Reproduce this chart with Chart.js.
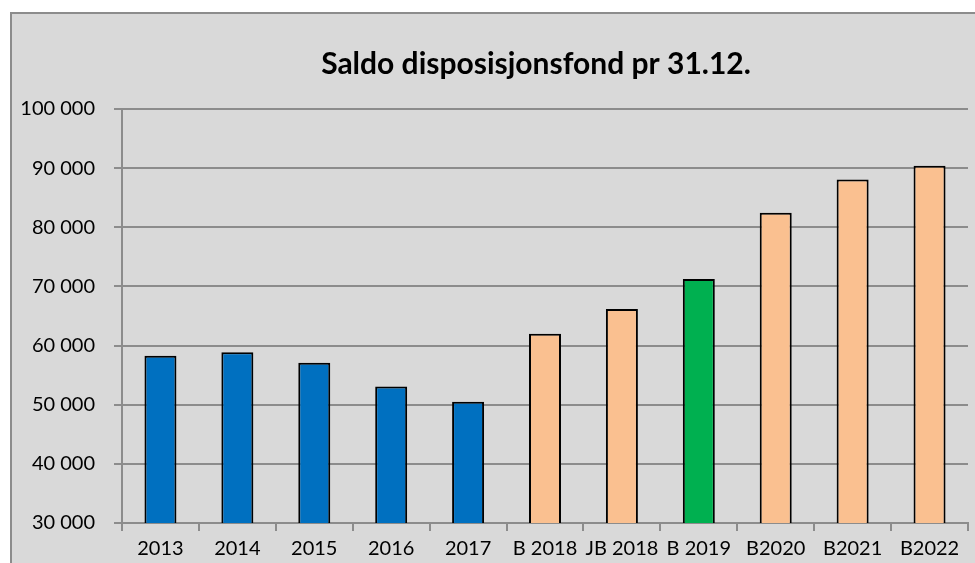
<!DOCTYPE html>
<html>
<head>
<meta charset="utf-8">
<script src="https://cdn.jsdelivr.net/npm/chart.js@4"></script>
<style>
  html, body { margin: 0; padding: 0; background: #fff; overflow: hidden; }
  canvas { display: block; }
</style>
</head>
<body>
<canvas id="chartSaldo" width="975" height="563"></canvas>
<script>
const categories = ['2013', '2014', '2015', '2016', '2017', 'B 2018', 'JB 2018', 'B 2019', 'B2020', 'B2021', 'B2022'];
const saldo = [58290, 58850, 57100, 53100, 50510, 62000, 66190, 71260, 82470, 88100, 90420];
const barColors = ['#0070C0', '#0070C0', '#0070C0', '#0070C0', '#0070C0',
  '#FAC090', '#FAC090', '#00B050', '#FAC090', '#FAC090', '#FAC090'];
const yTicks = [30000, 40000, 50000, 60000, 70000, 80000, 90000, 100000];

const fmt = v => String(v).replace(/\B(?=(\d{3})+(?!\d))/g, ' ');

// grey background with frame, like the spreadsheet chart
const frame = {
  id: 'frame',
  beforeDraw(chart) {
    const ctx = chart.ctx;
    ctx.save();
    ctx.fillStyle = '#ffffff';
    ctx.fillRect(0, 0, chart.width, chart.height);
    ctx.fillStyle = '#D9D9D9';
    ctx.fillRect(10, 12, chart.width, chart.height);
    ctx.strokeStyle = '#8C8C8C';
    ctx.lineWidth = 2;
    ctx.beginPath();
    ctx.moveTo(11, chart.height + 5);
    ctx.lineTo(11, 13);
    ctx.lineTo(chart.width + 5, 13);
    ctx.stroke();
    ctx.restore();
  },
  afterLayout(chart) {
    // shift title centre to match the original
    if (chart.titleBlock) {
      chart.titleBlock.left = 104;
      chart.titleBlock.right = 968;
    }
  }
};

new Chart(document.getElementById('chartSaldo'), {
  type: 'bar',
  data: {
    labels: categories,
    datasets: [{
      data: saldo,
      backgroundColor: barColors,
      borderColor: '#000000',
      borderWidth: 2,
      categoryPercentage: 1,
      barPercentage: 0.416
    }]
  },
  options: {
    responsive: false,
    animation: false,
    devicePixelRatio: 1,
    layout: { padding: { top: 0, right: 7, bottom: 0, left: 0 } },
    plugins: {
      legend: { display: false },
      tooltip: { enabled: false },
      title: {
        display: true,
        text: 'Saldo disposisjonsfond pr 31.12.',
        color: '#000000',
        font: { family: 'Lato', size: 30, weight: 'bold' },
        padding: { top: 46, bottom: 27 }
      }
    },
    scales: {
      x: {
        grid: { drawOnChartArea: false, color: '#8C8C8C', lineWidth: 2, tickLength: 8, offset: true },
        border: { color: '#8C8C8C', width: 2 },
        ticks: { color: '#000000', font: { family: 'Lato', size: 20 }, padding: 6, maxRotation: 0, autoSkip: false },
        afterFit(scale) { scale.height = 40; }
      },
      y: {
        min: 30000,
        max: 100000,
        afterBuildTicks(scale) { scale.ticks = yTicks.map(v => ({ value: v })); },
        grid: { color: '#8C8C8C', lineWidth: 2, tickLength: 8 },
        border: { color: '#8C8C8C', width: 2 },
        ticks: { color: '#000000', font: { family: 'Lato', size: 20 }, padding: 19, callback: v => fmt(v) },
        afterFit(scale) { scale.width = 122; }
      }
    }
  },
  plugins: [frame]
});
</script>
</body>
</html>
